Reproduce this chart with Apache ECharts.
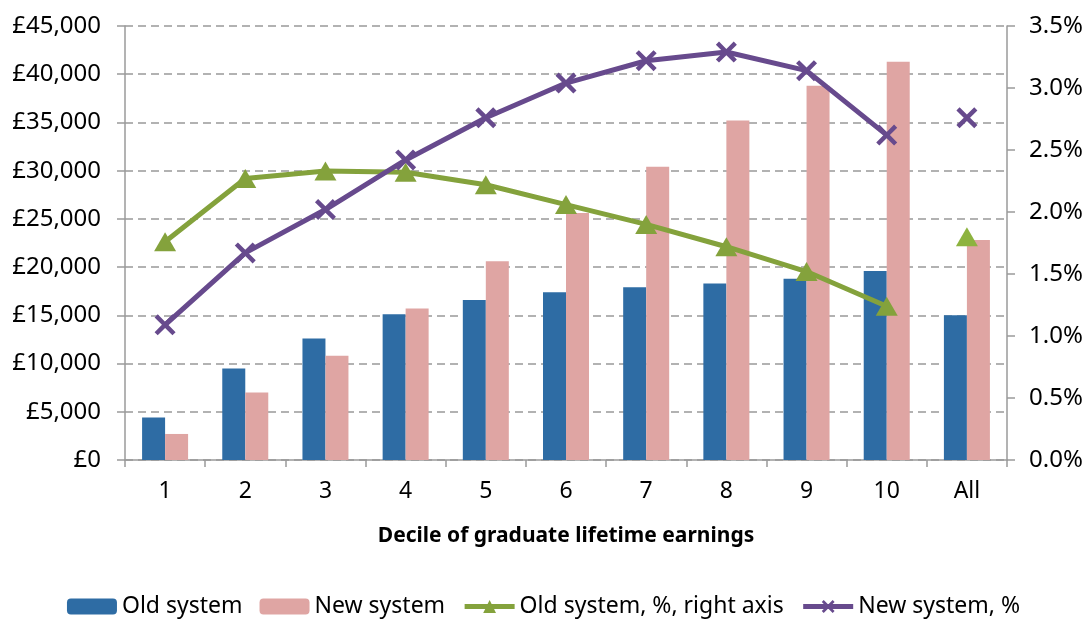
<!DOCTYPE html>
<html>
<head>
<meta charset="utf-8">
<script src="https://cdn.jsdelivr.net/npm/echarts@6/dist/echarts.min.js"></script>
<style>
  html, body { margin: 0; padding: 0; background: #fff; }
  #chart { width: 1087px; height: 619px; }
</style>
</head>
<body>
<div id="chart"></div>
<script>
// categories: deciles of graduate lifetime earnings
const deciles = ['1', '2', '3', '4', '5', '6', '7', '8', '9', '10', 'All'];
// £ values (left axis)
const oldSystem = [4400, 9500, 12600, 15100, 16600, 17400, 17900, 18300, 18800, 19600, 15000];
const newSystem = [2700, 7000, 10800, 15700, 20600, 25600, 30400, 35200, 38800, 41300, 22800];
// % values (right axis)
const oldPct = [1.76, 2.27, 2.33, 2.32, 2.22, 2.06, 1.90, 1.72, 1.52, 1.24, 1.80];
const newPct = [1.09, 1.67, 2.02, 2.42, 2.76, 3.04, 3.22, 3.29, 3.14, 2.62, 2.76];

const BLUE = '#2E6CA4', PINK = '#DFA5A3', GREEN = '#84A23C', PURPLE = '#674A8D';
const AXIS = '#9a9a9a';
const FONT = 'Noto Sans';
const crossPath = 'path://M0,3L3,0L10,7L17,0L20,3L13,10L20,17L17,20L10,13L3,20L0,17L7,10Z';

// line part = deciles 1..10, the "All" point stands alone
const lineOnly = arr => arr.map((v, i) => i < 10 ? v : '-');
const allOnly = arr => arr.map((v, i) => i === 10 ? v : '-');

function money(v) {
  return '£' + String(v).replace(/\B(?=(\d{3})+(?!\d))/g, ',');
}

const chart = echarts.init(document.getElementById('chart'));
chart.setOption({
  animation: false,
  textStyle: { fontFamily: FONT },
  grid: { left: 125, right: 80, top: 26, bottom: 159 },
  legend: {
    bottom: -4,
    left: 'center',
    itemWidth: 50,
    itemHeight: 16,
    itemGap: 17,
    lineStyle: { width: 5 },
    textStyle: { fontSize: 23, color: '#000', fontFamily: FONT },
    data: ['Old system', 'New system', 'Old system, %, right axis', 'New system, %']
  },
  xAxis: {
    type: 'category',
    data: deciles,
    name: 'Decile of graduate lifetime earnings',
    nameLocation: 'middle',
    nameGap: 66,
    nameTextStyle: { fontSize: 21, fontWeight: 'bold', color: '#000' },
    axisLine: { lineStyle: { color: AXIS, width: 1.5 } },
    axisTick: { show: true, length: 7, lineStyle: { color: AXIS, width: 1.5 } },
    axisLabel: { fontSize: 23, color: '#000', margin: 20 }
  },
  yAxis: [
    {
      type: 'value', min: 0, max: 45000, interval: 5000,
      axisLine: { show: true, lineStyle: { color: AXIS, width: 1.5 } },
      axisTick: { show: true, length: 8, lineStyle: { color: AXIS, width: 1.5 } },
      axisLabel: { fontSize: 24, color: '#000', formatter: money, margin: 24 },
      splitLine: { lineStyle: { color: '#999', width: 1.5, type: [8, 5] } }
    },
    {
      type: 'value', min: 0, max: 3.5, interval: 0.5,
      axisLine: { show: true, lineStyle: { color: AXIS, width: 1.5 } },
      axisTick: { show: true, length: 8, lineStyle: { color: AXIS, width: 1.5 } },
      axisLabel: { fontSize: 24, color: '#000', formatter: v => v.toFixed(1) + '%', margin: 22 },
      splitLine: { show: false }
    }
  ],
  series: [
    {
      name: 'Old system', type: 'bar', data: oldSystem,
      barWidth: 23, barGap: '0%',
      itemStyle: { color: BLUE }
    },
    {
      name: 'New system', type: 'bar', data: newSystem,
      barWidth: 23, barGap: '0%',
      itemStyle: { color: PINK }
    },
    {
      name: 'Old system, %, right axis', type: 'line', yAxisIndex: 1,
      data: lineOnly(oldPct),
      symbol: 'triangle', symbolSize: [22, 19],
      lineStyle: { color: GREEN, width: 5 },
      itemStyle: { color: GREEN }
    },
    {
      name: 'Old system, %, right axis', type: 'line', yAxisIndex: 1,
      data: allOnly(oldPct),
      symbol: 'triangle', symbolSize: [22, 19],
      lineStyle: { color: GREEN, width: 5 },
      itemStyle: { color: '#8DB33F' }
    },
    {
      name: 'New system, %', type: 'line', yAxisIndex: 1,
      data: lineOnly(newPct),
      symbol: crossPath, symbolSize: 21,
      lineStyle: { color: PURPLE, width: 5 },
      itemStyle: { color: PURPLE }
    },
    {
      name: 'New system, %', type: 'line', yAxisIndex: 1,
      data: allOnly(newPct),
      symbol: crossPath, symbolSize: 21,
      lineStyle: { color: PURPLE, width: 5 },
      itemStyle: { color: PURPLE }
    }
  ]
});
</script>
</body>
</html>
